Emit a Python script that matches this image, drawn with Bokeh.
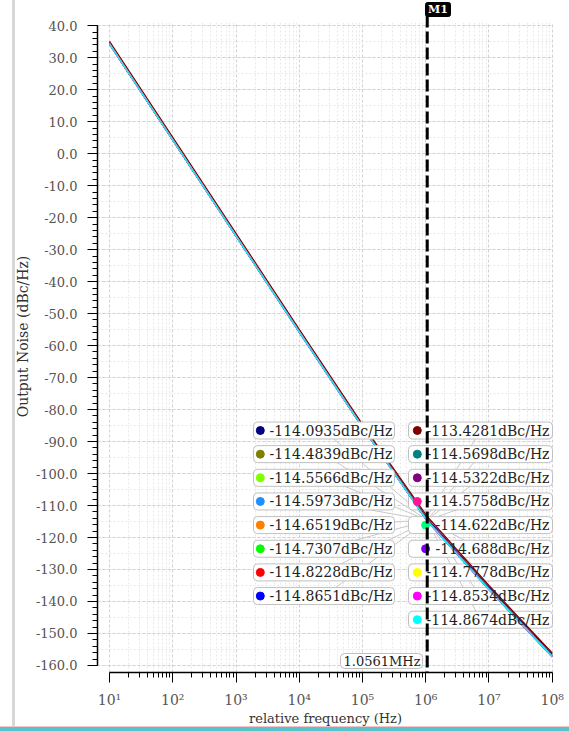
from bokeh.plotting import figure
from bokeh.models import FixedTicker, NumeralTickFormatter, BoxAnnotation
from bokeh.core.properties import value
from bokeh.embed import file_html
from bokeh.resources import INLINE

# ---------------- data ----------------
freqs = [10, 100, 1e3, 1e4, 1e5, 1.0561e6, 1e7, 1e8]
marker_freq = 1.0561e6
marker_freq_label = "1.0561MHz"
marker_name = "M1"

noise_01 = [34.8, 4.8, -25.2, -55.2, -85.0, -114.0935, -135.5, -156.5]
noise_02 = [34.5, 4.5, -25.5, -55.5, -85.3, -114.4839, -135.9, -156.9]
noise_03 = [34.4, 4.4, -25.6, -55.6, -85.4, -114.5566, -136.0, -157.0]
noise_04 = [34.4, 4.4, -25.6, -55.6, -85.4, -114.5973, -136.0, -157.0]
noise_05 = [34.3, 4.3, -25.7, -55.7, -85.5, -114.6519, -136.1, -157.1]
noise_06 = [34.3, 4.3, -25.7, -55.7, -85.5, -114.7307, -136.2, -157.2]
noise_07 = [34.2, 4.2, -25.8, -55.8, -85.6, -114.8228, -136.3, -157.3]
noise_08 = [34.2, 4.2, -25.8, -55.8, -85.6, -114.8651, -136.3, -157.3]
noise_09 = [35.1, 5.1, -24.9, -54.9, -84.6, -113.4281, -135.0, -156.1]
noise_10 = [34.4, 4.4, -25.6, -55.6, -85.4, -114.5698, -136.0, -157.0]
noise_11 = [34.5, 4.5, -25.5, -55.5, -85.3, -114.5322, -135.9, -156.9]
noise_12 = [34.4, 4.4, -25.6, -55.6, -85.4, -114.5758, -136.0, -157.0]
noise_13 = [34.4, 4.4, -25.6, -55.6, -85.4, -114.622, -136.0, -157.0]
noise_14 = [34.3, 4.3, -25.7, -55.7, -85.5, -114.688, -136.1, -157.1]
noise_15 = [34.3, 4.3, -25.7, -55.7, -85.5, -114.7778, -136.2, -157.2]
noise_16 = [34.2, 4.2, -25.8, -55.8, -85.6, -114.8534, -136.3, -157.3]
noise_17 = [34.2, 4.2, -25.8, -55.8, -85.6, -114.8674, -136.3, -157.3]

curve_colors = ["#000080", "#808000", "#80ff00", "#1e90ff", "#ff8000", "#00ff00",
                "#ff0000", "#0000ff", "#800000", "#008080", "#800080", "#ff1493",
                "#00ff80", "#8000ff", "#ffff00", "#ff00ff", "#00ffff"]
curves = [noise_01, noise_02, noise_03, noise_04, noise_05, noise_06, noise_07,
          noise_08, noise_09, noise_10, noise_11, noise_12, noise_13, noise_14,
          noise_15, noise_16, noise_17]
left_column = list(range(0, 8))
right_column = list(range(8, 17))

y_ticks = [-160, -150, -140, -130, -120, -110, -100, -90, -80, -70, -60, -50,
           -40, -30, -20, -10, 0, 10, 20, 30, 40]
x_ticks = [10, 100, 1000, 10000, 100000, 1000000, 10000000, 100000000]
x_tick_labels = {10: "10¹", 100: "10²", 1000: "10³", 10000: "10⁴",
                 100000: "10⁵", 1000000: "10⁶", 10000000: "10⁷", 100000000: "10⁸"}

# ---------------- layout ----------------
W, H = 569, 731
FL, FR, FT, FB = 97, 553, 0, 672
XL0, XL1 = 0.81, 8.02
PX_PER_DB = 650 / 203.2
Y0 = -162.2
Y1 = Y0 + (FB - FT) / PX_PER_DB
GRID_TOP = 41.0


def sx(px):
    return 10 ** (XL0 + (px - FL) / (FR - FL) * (XL1 - XL0))


def sy(py):
    return Y1 - (py - FT) / (FB - FT) * (Y1 - Y0)


FONT = "DejaVu Serif"

p = figure(width=W, height=H, x_axis_type="log", x_range=(10 ** XL0, 10 ** XL1),
           y_range=(Y0, Y1), output_backend="svg", toolbar_location=None,
           min_border_left=FL, min_border_right=W - FR, min_border_top=FT,
           min_border_bottom=H - FB)
p.outline_line_color = None
p.background_fill_color = "white"
p.border_fill_color = None
p.styles = {
    "background-color": "white",
    "background-image": ("linear-gradient(to bottom, transparent 726px, #f2c4c8 726px, "
                         "#f2c4c8 727px, #57c4cc 727px), linear-gradient(to right, "
                         "transparent 12px, #d8d8d8 12px, #d8d8d8 15px, transparent 15px)"),
}

# axes
x_minor = [m * 10 ** k for k in range(1, 8) for m in range(2, 10)]
p.xaxis.ticker = FixedTicker(ticks=x_ticks, minor_ticks=x_minor)
p.xaxis.major_label_overrides = x_tick_labels
p.xaxis.bounds = (x_ticks[0], x_ticks[-1])
p.yaxis.ticker = FixedTicker(ticks=y_ticks, minor_ticks=list(range(-160, 41, 2)))
p.yaxis.formatter = NumeralTickFormatter(format="0.0")
p.yaxis.bounds = (y_ticks[0], y_ticks[-1])

for ax in (p.xaxis[0], p.yaxis[0]):
    ax.axis_line_color = "black"
    ax.axis_line_width = 1.5
    ax.major_tick_line_color = "black"
    ax.minor_tick_line_color = "black"
    ax.major_tick_in = 0
    ax.minor_tick_in = 0
    ax.major_tick_out = 10
    ax.minor_tick_out = 5
    ax.major_label_text_font = FONT
    ax.axis_label_text_font = FONT
    ax.axis_label_text_font_style = "normal"
    ax.axis_label_text_color = "#333333"
    ax.major_label_text_color = "#555555"

p.yaxis.major_label_text_font_size = "13px"
p.yaxis.major_label_standoff = 10
p.yaxis.axis_label = "Output Noise (dBc/Hz)"
p.yaxis.axis_label_text_font_size = "14px"
p.yaxis.axis_label_standoff = 2

p.xaxis.major_label_text_font_size = "14px"
p.xaxis.major_label_standoff = 9
p.xaxis.axis_label = "relative frequency (Hz)"
p.xaxis.axis_label_text_font_size = "13px"
p.xaxis.axis_label_standoff = 0

# grids
p.xgrid.ticker = FixedTicker(ticks=x_ticks, minor_ticks=x_minor)
p.ygrid.ticker = FixedTicker(ticks=y_ticks, minor_ticks=list(range(-160, 41, 5)))
for g in (p.xgrid[0], p.ygrid[0]):
    g.grid_line_color = "#d2d2d2"
    g.grid_line_dash = "3 2"
    g.grid_line_width = 1
    g.minor_grid_line_color = "#e8e8e8"
    g.minor_grid_line_dash = "2 2"

# blank the strip above the plotted area (room for the marker tag)
p.add_layout(BoxAnnotation(bottom=GRID_TOP, fill_color="white", fill_alpha=1.0,
                           line_color=None))

# ---------------- marker labels ----------------
ROW0, ROWSTEP, BOXH = 430, 23.65, 17
LB_L, LB_R = 253, 394
RB_L, RB_R = 408, 552
CHAR_W = 8.28


def row_y(i):
    return ROW0 + i * ROWSTEP


labels = [f"{c[5]}dBc/Hz" for c in curves]

# leader lines
for col, (bl, br) in ((left_column, (LB_L, LB_R)), (right_column, (RB_L, RB_R))):
    for i, ci in enumerate(col):
        p.segment(x0=[sx((bl + br) / 2)], y0=[sy(row_y(i))], x1=[marker_freq],
                  y1=[curves[ci][5]], line_color="#c8c8c8", line_width=1)


def draw_boxes(col, bl, br):
    lefts, rights, tops, bottoms = [], [], [], []
    for i, ci in enumerate(col):
        lefts.append(sx(bl))
        rights.append(sx(br))
        tops.append(sy(row_y(i) - BOXH / 2))
        bottoms.append(sy(row_y(i) + BOXH / 2))
    p.quad(left=lefts, right=rights, top=tops, bottom=bottoms, fill_color="white",
           line_color="#c0c0c0", line_width=1, border_radius=4, level="overlay")


draw_boxes(right_column, RB_L, RB_R)

# curves
for ci, c in enumerate(curves):
    p.line(freqs, c, line_color=curve_colors[ci], line_width=1.2, level="overlay")

draw_boxes(left_column, LB_L, LB_R)

# dots and texts
for col, text_right in ((left_column, 392), (right_column, 549)):
    xs_t, ys_t, txt, xs_d, cols = [], [], [], [], []
    for i, ci in enumerate(col):
        t = labels[ci]
        xs_t.append(sx(text_right))
        ys_t.append(sy(row_y(i)))
        txt.append(t)
        xs_d.append(sx(text_right - len(t) * CHAR_W - 8))
        cols.append(curve_colors[ci])
    p.scatter(xs_d, ys_t, size=8, color=cols, level="overlay")
    p.text(xs_t, ys_t, text=txt, text_align="right", text_baseline="middle",
           text_font=value(FONT), text_font_size="14px", text_color="#222222",
           level="overlay")

# frequency readout box at bottom
p.quad(left=[sx(340)], right=[sx(422)], top=[sy(653)], bottom=[sy(668)],
       fill_color="white", line_color="#c0c0c0", border_radius=4, level="overlay")
p.text([sx(420)], [sy(660.5)], text=[marker_freq_label], text_align="right",
       text_baseline="middle", text_font=value(FONT), text_font_size="13px",
       text_color="#222222", level="overlay")

# marker line and tag
p.segment(x0=[marker_freq], y0=[sy(15)], x1=[marker_freq], y1=[Y0],
          line_color="black", line_width=3, line_dash="12 4", level="overlay")
p.quad(left=[sx(425)], right=[sx(450)], top=[sy(2)], bottom=[sy(16)],
       fill_color="black", line_color="black", border_radius=2, level="overlay")
p.text([sx(437.5)], [sy(9)], text=[marker_name], text_align="center",
       text_baseline="middle", text_font=value(FONT), text_font_size="11px",
       text_font_style="bold", text_color="white", level="overlay")

open("out.html", "w").write(file_html(p, INLINE))
